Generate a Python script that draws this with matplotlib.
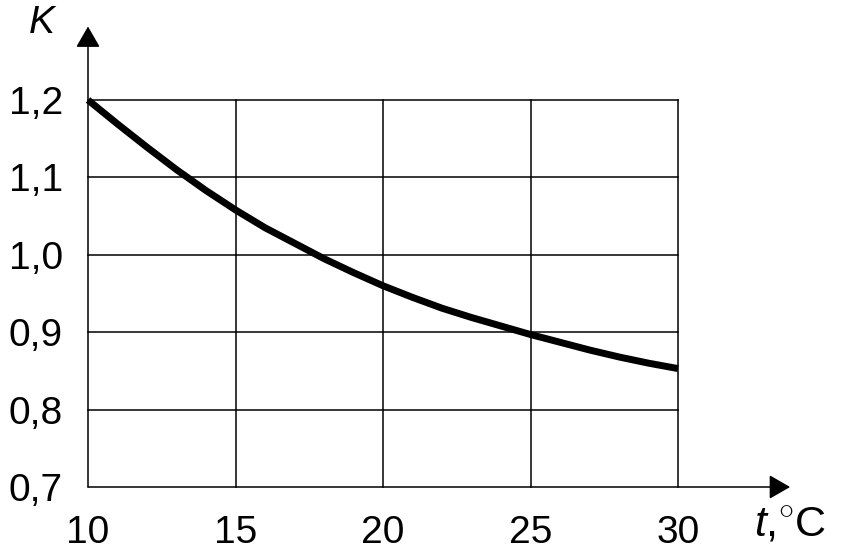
import numpy as np
import matplotlib
matplotlib.use("Agg")
import matplotlib.pyplot as plt

plt.rcParams['font.family'] = ['Liberation Sans', 'DejaVu Sans']
plt.rcParams['mathtext.fontset'] = 'custom'
plt.rcParams['mathtext.rm'] = 'Liberation Sans'
plt.rcParams['mathtext.it'] = 'Liberation Sans:italic'

# curve K(t)
t = [10, 11, 12, 13, 14, 15, 16, 17, 18, 19, 20,
     21, 22, 23, 24, 25, 26, 27, 28, 29, 30]
k = [1.200, 1.169, 1.139, 1.110, 1.083, 1.058, 1.035, 1.015, 0.995, 0.977, 0.960,
     0.945, 0.931, 0.919, 0.908, 0.897, 0.887, 0.877, 0.868, 0.860, 0.853]

x_ticks = [10, 15, 20, 25, 30]
x_labels = ["10", "15", "20", "25", "30"]
y_ticks = [0.7, 0.8, 0.9, 1.0, 1.1, 1.2]
y_labels = ["0,7", "0,8", "0,9", "1,0", "1,1", "1,2"]

fig = plt.figure(figsize=(8.44, 5.57), dpi=100)
ax = fig.add_axes([88 / 844, 70 / 557, 590 / 844, 387 / 557])
ax.set_xlim(10, 30)
ax.set_ylim(0.7, 1.2)
for s in ax.spines.values():
    s.set_visible(False)

# grid
for xv in x_ticks[1:]:
    ax.plot([xv, xv], [0.7, 1.2], color='black', lw=1.1, clip_on=False)
for yv in y_ticks[1:]:
    ax.plot([10, 30], [yv, yv], color='black', lw=1.1, clip_on=False)

# axes with arrows
arr = dict(arrowstyle='-|>,head_length=0.87,head_width=0.5', mutation_scale=15,
           lw=1.1, color='black', shrinkA=0, shrinkB=0)
ax.annotate('', xy=(1.19, 0), xytext=(0, 0), xycoords='axes fraction',
            textcoords='axes fraction', arrowprops=arr, annotation_clip=False)
ax.annotate('', xy=(0, 1.19), xytext=(0, 0), xycoords='axes fraction',
            textcoords='axes fraction', arrowprops=arr, annotation_clip=False)

ax.plot(t, k, color='black', lw=5, solid_capstyle='butt', solid_joinstyle='round',
        clip_on=False)

ax.set_xticks(x_ticks)
ax.set_xticklabels(x_labels)
ax.set_yticks(y_ticks)
ax.set_yticklabels(y_labels)
ax.tick_params(axis='both', length=0, labelsize=28)
ax.tick_params(axis='x', pad=20)
ax.tick_params(axis='y', pad=18)

ax.text(-0.078, 1.200, 'K', transform=ax.transAxes, fontsize=28, style='italic',
        ha='center', va='center')
ax.text(1.190, -0.098, r'$t{,}^{\circ}\mathrm{C}$', transform=ax.transAxes, fontsize=31,
        ha='center', va='center')

fig.savefig('out.png', dpi=100)
